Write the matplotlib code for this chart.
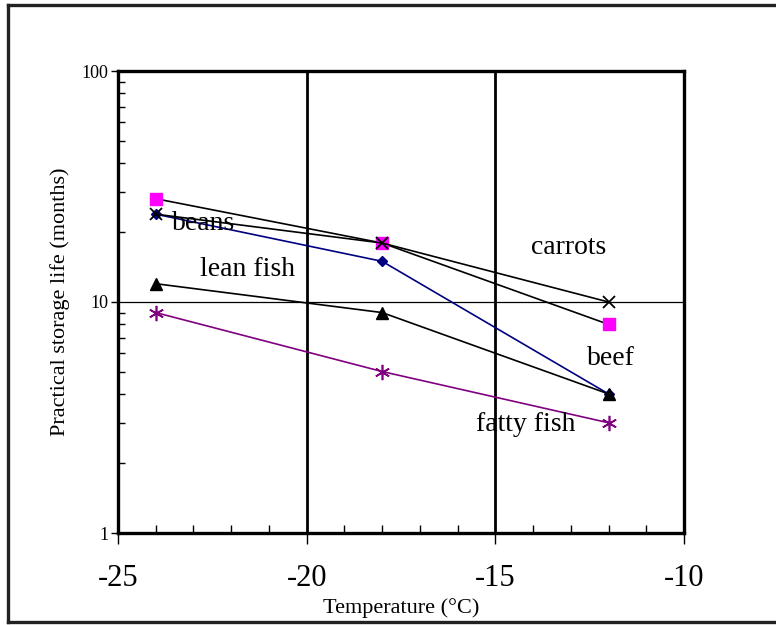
import matplotlib

matplotlib.use("Agg")
import matplotlib.pyplot as plt
from matplotlib.lines import Line2D
from matplotlib.ticker import FixedLocator, NullFormatter, FixedFormatter

plt.rcParams["font.family"] = ["Liberation Serif", "DejaVu Serif"]

temps = [-24, -18, -12]
beef = [28, 18, 8]
carrots = [24, 18, 10]
beans = [24, 15, 4]
lean_fish = [12, 9, 4]
fatty_fish = [9, 5, 3]

labels = ["beans", "lean fish", "carrots", "beef", "fatty fish"]
label_x = [-22.72, -21.57, -13.07, -11.93, -14.2]
label_y = [21.8, 13.8, 17.3, 5.72, 2.96]

fig = plt.figure(figsize=(7.76, 6.25), dpi=100)
ax = fig.add_axes([118 / 776, 1 - 533 / 625, 566 / 776, 462 / 625])

# frame around the picture (left, top, bottom edges)
for xs, ys in [([8 / 776, 8 / 776], [1 - 5 / 625, 1 - 622 / 625]),
               ([8 / 776, 1.0], [1 - 5 / 625, 1 - 5 / 625]),
               ([8 / 776, 1.0], [1 - 622 / 625, 1 - 622 / 625])]:
    fig.add_artist(Line2D(xs, ys, transform=fig.transFigure, color="#222222", lw=2.4))

ax.set_yscale("log")
ax.set_xlim(-25, -10)
ax.set_ylim(1, 100)

ax.axvline(-20, color="black", lw=2, zorder=1)
ax.axvline(-15, color="black", lw=2, zorder=1)
ax.axhline(10, color="black", lw=0.9, zorder=1)

ax.plot(temps, beef, "-", color="black", lw=1.2, marker="s", ms=8,
        mfc="#ff00ff", mec="#ff00ff", zorder=3)
ax.plot(temps, carrots, "-", color="black", lw=1.2, marker="x", ms=8,
        mew=1.3, mec="black", zorder=4)
ax.plot(temps, beans, "-", color="#000080", lw=1.2, marker="D", ms=5,
        mfc="#000080", mec="#000080", zorder=3)
ax.plot(temps, lean_fish, "-", color="black", lw=1.2, marker="^", ms=8,
        mfc="black", mec="black", zorder=3)
ax.plot(temps, fatty_fish, "-", color="#800080", lw=1.2, marker=(6, 2, 0), ms=11,
        mew=1.2, mec="#800080", zorder=3)

for t, x, y in zip(labels, label_x, label_y):
    ax.text(x, y, t, fontsize=20, ha="center", va="center", zorder=5)

for s in ax.spines.values():
    s.set_linewidth(2.4)

ax.xaxis.set_major_locator(FixedLocator([-25, -20, -15, -10]))
ax.xaxis.set_minor_locator(FixedLocator(list(range(-24, -10))))
ax.set_xticklabels(["-25", "-20", "-15", "-10"])
ax.tick_params(axis="x", which="major", direction="out", length=8, width=1,
               labelsize=22, pad=14)
ax.tick_params(axis="x", which="minor", direction="in", length=6, width=1)

ax.yaxis.set_major_locator(FixedLocator([1, 10, 100]))
ax.yaxis.set_major_formatter(FixedFormatter(["1", "10", "100"]))
ax.yaxis.set_minor_locator(FixedLocator([m * d for d in (1, 10) for m in range(2, 10)]))
ax.yaxis.set_minor_formatter(NullFormatter())
ax.tick_params(axis="y", which="major", direction="out", length=5, width=1,
               labelsize=13, pad=2)
ax.tick_params(axis="y", which="minor", direction="in", length=5, width=1)

ax.set_xlabel("Temperature (°C)", fontsize=16, labelpad=4)
ax.set_ylabel("Practical storage life (months)", fontsize=16, labelpad=8)

fig.savefig("out.png", dpi=100)
